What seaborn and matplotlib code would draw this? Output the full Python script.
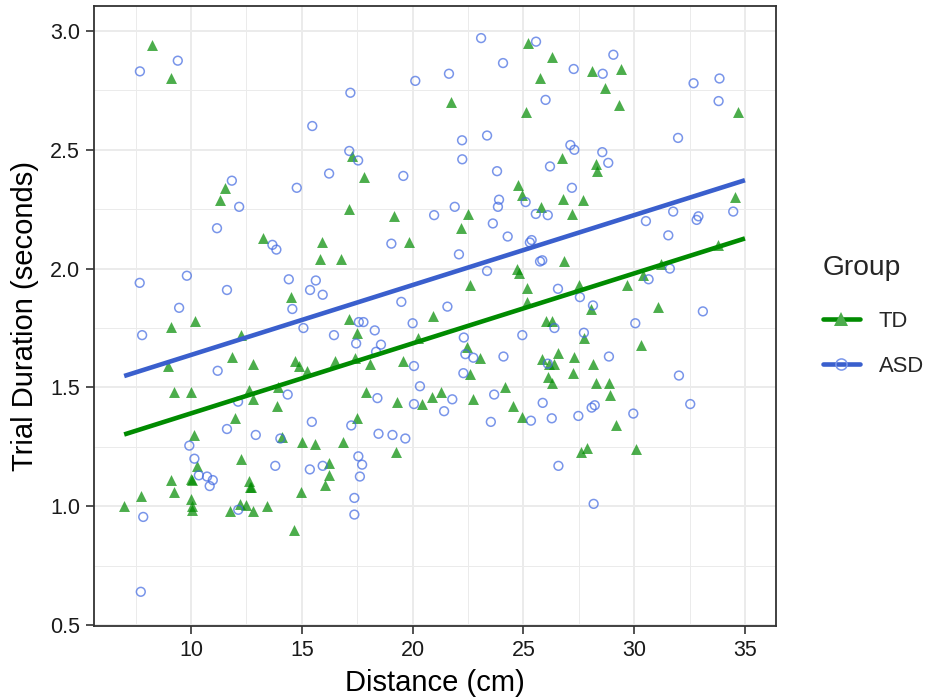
import numpy as np
import pandas as pd
import matplotlib
matplotlib.use("Agg")
import matplotlib.pyplot as plt
from matplotlib.lines import Line2D
from matplotlib.ticker import MultipleLocator
import seaborn as sns

# ---------------- data ----------------
td_x = [8.24, 9.08, 11.55, 11.32, 25.22, 25.76, 21.75, 25.12, 17.25, 17.79,
        24.76, 24.92, 25.81, 17.12, 26.28, 28.08, 29.42, 28.68, 29.30, 34.67,
        26.73, 28.26, 28.33, 26.80, 27.70, 34.55, 13.25, 15.91, 15.84, 14.53,
        9.08, 10.17, 12.24, 11.85, 12.80, 8.95, 14.69, 14.86, 15.23, 9.22,
        10.01, 12.60, 13.94, 12.78, 13.87, 19.16, 22.49, 22.20, 19.84, 16.76,
        24.69, 24.80, 22.59, 25.16, 20.92, 25.15, 26.04, 26.30, 17.13, 17.49,
        20.26, 22.46, 23.06, 16.51, 17.40, 18.08, 19.57, 22.60, 25.85, 26.10,
        17.90, 19.28, 20.44, 20.88, 21.27, 22.74, 24.19, 24.52, 27.21, 33.77,
        26.83, 31.23, 30.41, 29.69, 27.52, 28.05, 31.09, 27.73, 30.29, 26.55,
        27.27, 26.16, 26.40, 28.16, 27.23, 26.28, 28.28, 28.88, 28.92, 12.00,
        10.14, 14.12, 15.02, 15.60, 10.27, 12.24, 16.05, 9.11, 10.00, 10.02,
        9.25, 7.76, 12.60, 12.70, 12.65, 6.98, 10.00, 10.05, 10.05, 11.76,
        12.21, 12.48, 12.80, 13.44, 14.98, 14.66, 17.51, 16.84, 19.26, 24.92,
        16.21, 16.21, 29.16, 27.58, 27.85, 30.08]
td_y = [2.94, 2.80, 2.34, 2.29, 2.95, 2.80, 2.70, 2.66, 2.475, 2.385,
        2.35, 2.31, 2.26, 2.25, 2.89, 2.83, 2.84, 2.76, 2.69, 2.66,
        2.465, 2.44, 2.41, 2.295, 2.29, 2.30, 2.13, 2.11, 2.04, 1.88,
        1.755, 1.78, 1.72, 1.63, 1.60, 1.59, 1.61, 1.59, 1.57, 1.48,
        1.48, 1.49, 1.50, 1.45, 1.42, 2.22, 2.23, 2.17, 2.11, 2.04,
        2.00, 1.98, 1.93, 1.92, 1.80, 1.86, 1.78, 1.78, 1.79, 1.73,
        1.71, 1.67, 1.625, 1.61, 1.625, 1.60, 1.61, 1.555, 1.62, 1.545,
        1.48, 1.44, 1.43, 1.46, 1.48, 1.45, 1.50, 1.42, 2.23, 2.10,
        2.03, 2.02, 1.975, 1.93, 1.93, 1.83, 1.84, 1.71, 1.68, 1.645,
        1.63, 1.60, 1.60, 1.60, 1.56, 1.52, 1.52, 1.52, 1.47, 1.37,
        1.30, 1.29, 1.27, 1.26, 1.17, 1.20, 1.09, 1.11, 1.115, 1.11,
        1.06, 1.045, 1.105, 1.08, 1.08, 1.00, 1.03, 1.00, 0.985, 0.98,
        1.01, 1.005, 0.98, 1.00, 1.06, 0.90, 1.37, 1.27, 1.23, 1.375,
        1.18, 1.13, 1.34, 1.23, 1.245, 1.24]

asd_x = [9.40, 7.69, 15.47, 11.84, 14.77, 12.17, 23.09, 25.57, 24.08, 21.64,
         20.12, 17.19, 26.00, 22.23, 23.36, 17.14, 17.54, 22.24, 16.23, 19.58,
         23.81, 25.10, 23.90, 23.85, 21.90, 29.06, 27.27, 28.58, 32.68, 33.85,
         33.81, 31.98, 27.12, 27.30, 26.20, 28.56, 28.83, 27.19, 34.47, 11.17,
         13.67, 13.85, 7.68, 9.81, 11.62, 14.41, 15.63, 15.37, 15.94, 14.57,
         9.46, 7.79, 15.07, 11.20, 14.36, 12.12, 20.97, 23.62, 24.29, 25.37,
         25.29, 25.56, 19.04, 22.09, 25.75, 25.85, 23.36, 19.49, 21.57, 17.57,
         17.78, 20.00, 16.45, 18.29, 17.45, 18.57, 18.35, 22.31, 22.38, 22.74,
         24.10, 24.95, 26.10, 20.06, 22.29, 20.33, 18.41, 20.06, 21.79, 21.42,
         23.68, 25.87, 26.10, 31.76, 32.90, 32.82, 30.53, 31.54, 31.61, 30.65,
         26.56, 27.55, 28.14, 33.10, 26.40, 30.05, 27.73, 28.86, 32.02, 32.53,
         28.08, 28.22, 27.48, 26.28, 29.96, 11.62, 12.92, 14.03, 15.45, 9.92,
         10.15, 13.80, 15.36, 15.94, 10.35, 10.72, 10.98, 10.84, 12.13, 7.84,
         7.73, 17.23, 18.46, 19.09, 19.67, 23.53, 25.34, 17.55, 17.72, 17.62,
         17.37, 17.37, 26.58, 28.17]
asd_y = [2.875, 2.83, 2.60, 2.37, 2.34, 2.26, 2.97, 2.955, 2.865, 2.82,
         2.79, 2.74, 2.71, 2.54, 2.56, 2.495, 2.455, 2.46, 2.40, 2.39,
         2.41, 2.28, 2.29, 2.26, 2.26, 2.90, 2.84, 2.82, 2.78, 2.80,
         2.705, 2.55, 2.52, 2.50, 2.43, 2.49, 2.445, 2.34, 2.24, 2.17,
         2.10, 2.08, 1.94, 1.97, 1.91, 1.955, 1.95, 1.91, 1.89, 1.83,
         1.835, 1.72, 1.75, 1.57, 1.47, 1.44, 2.225, 2.19, 2.135, 2.12,
         2.11, 2.23, 2.105, 2.06, 2.03, 2.035, 1.99, 1.86, 1.84, 1.775,
         1.775, 1.77, 1.72, 1.74, 1.685, 1.68, 1.65, 1.71, 1.64, 1.625,
         1.63, 1.72, 1.60, 1.59, 1.56, 1.505, 1.455, 1.43, 1.45, 1.40,
         1.47, 1.435, 2.225, 2.24, 2.22, 2.205, 2.20, 2.14, 2.00, 1.955,
         1.915, 1.88, 1.845, 1.82, 1.75, 1.77, 1.73, 1.63, 1.55, 1.43,
         1.415, 1.425, 1.38, 1.37, 1.39, 1.325, 1.30, 1.285, 1.355, 1.255,
         1.20, 1.17, 1.155, 1.17, 1.13, 1.125, 1.11, 1.085, 0.985, 0.955,
         0.64, 1.34, 1.305, 1.30, 1.285, 1.355, 1.36, 1.21, 1.175, 1.125,
         1.035, 0.965, 1.17, 1.01]

# fitted (model) lines at the ends of the data range
fit_x = [6.98, 35.0]
td_fit = [1.302, 2.127]
asd_fit = [1.548, 2.372]

groups = ["TD", "ASD"]
x_ticks = [10, 15, 20, 25, 30, 35]
y_ticks = [0.5, 1.0, 1.5, 2.0, 2.5, 3.0]

td = pd.DataFrame({"Distance": td_x, "Duration": td_y})
asd = pd.DataFrame({"Distance": asd_x, "Duration": asd_y})
fits = pd.DataFrame({"Distance": fit_x * 2, "Duration": td_fit + asd_fit,
                     "Group": ["TD"] * 2 + ["ASD"] * 2})

# ---------------- style ----------------
sns.set_theme(style="white")
plt.rcParams["font.family"] = ["Liberation Sans", "DejaVu Sans"]

TD_PT = "#008b00"       # green4 (drawn with alpha)
TD_LINE = "#008b00"
ASD_PT = "#4169e1"      # royalblue (drawn with alpha)
ASD_LINE = "#3a5fcd"    # royalblue3

fig = plt.figure(figsize=(9.33, 7.0), dpi=100)
ax = fig.add_axes([0.1008, 0.1057, 0.7309, 0.8857])

sns.scatterplot(data=td, x="Distance", y="Duration", ax=ax, marker="^", s=62,
                color=TD_PT, alpha=0.7, linewidth=0, zorder=3, legend=False)
sns.scatterplot(data=asd, x="Distance", y="Duration", ax=ax, marker="o", s=40,
                facecolors="none", edgecolor=ASD_PT, alpha=0.7, linewidth=1.1,
                zorder=3, legend=False)
sns.lineplot(data=fits, x="Distance", y="Duration", hue="Group",
             palette={"TD": TD_LINE, "ASD": ASD_LINE}, lw=3.3, ax=ax,
             estimator=None, sort=False, legend=False, zorder=4)
for ln in ax.get_lines():
    ln.set_solid_capstyle("butt")

ax.set_xlim(5.62, 36.40)
ax.set_ylim(0.496, 3.105)
ax.set_xticks(x_ticks)
ax.set_yticks(y_ticks)
ax.set_yticklabels([f"{v:.1f}" for v in y_ticks])
ax.xaxis.set_minor_locator(MultipleLocator(2.5))
ax.yaxis.set_minor_locator(MultipleLocator(0.25))

ax.grid(which="major", color="#ebebeb", lw=1.4, zorder=0)
ax.grid(which="minor", color="#ebebeb", lw=0.7, zorder=0)
ax.set_axisbelow(True)
for s in ax.spines.values():
    s.set_color("#333333")
    s.set_linewidth(1.3)

ax.tick_params(which="major", direction="out", length=5.5, width=1.2,
               color="#333333", labelsize=15.5, labelcolor="#1a1a1a", pad=4.5,
               bottom=True, left=True)
ax.tick_params(which="minor", length=0)

ax.set_xlabel("Distance (cm)", fontsize=21, color="black", labelpad=6)
ax.set_ylabel("Trial Duration (seconds)", fontsize=21, color="black", labelpad=8)

handles = [
    Line2D([], [], color=TD_LINE, lw=3.3, marker="^", markersize=10,
           markerfacecolor=(0.30, 0.68, 0.30), markeredgewidth=0),
    Line2D([], [], color=ASD_LINE, lw=3.3, marker="o", markersize=8,
           markerfacecolor="none", markeredgecolor="#7a96ea",
           markeredgewidth=1.1),
]
leg = fig.legend(handles, groups, title="Group", loc="upper left",
                 bbox_to_anchor=(0.870, 0.652), frameon=False, borderpad=0,
                 fontsize=15.8, title_fontsize=20.3, handlelength=1.7,
                 labelspacing=1.09, handletextpad=0.85, alignment="left")
leg._legend_box.sep = 22

fig.savefig("out.png", dpi=100)
